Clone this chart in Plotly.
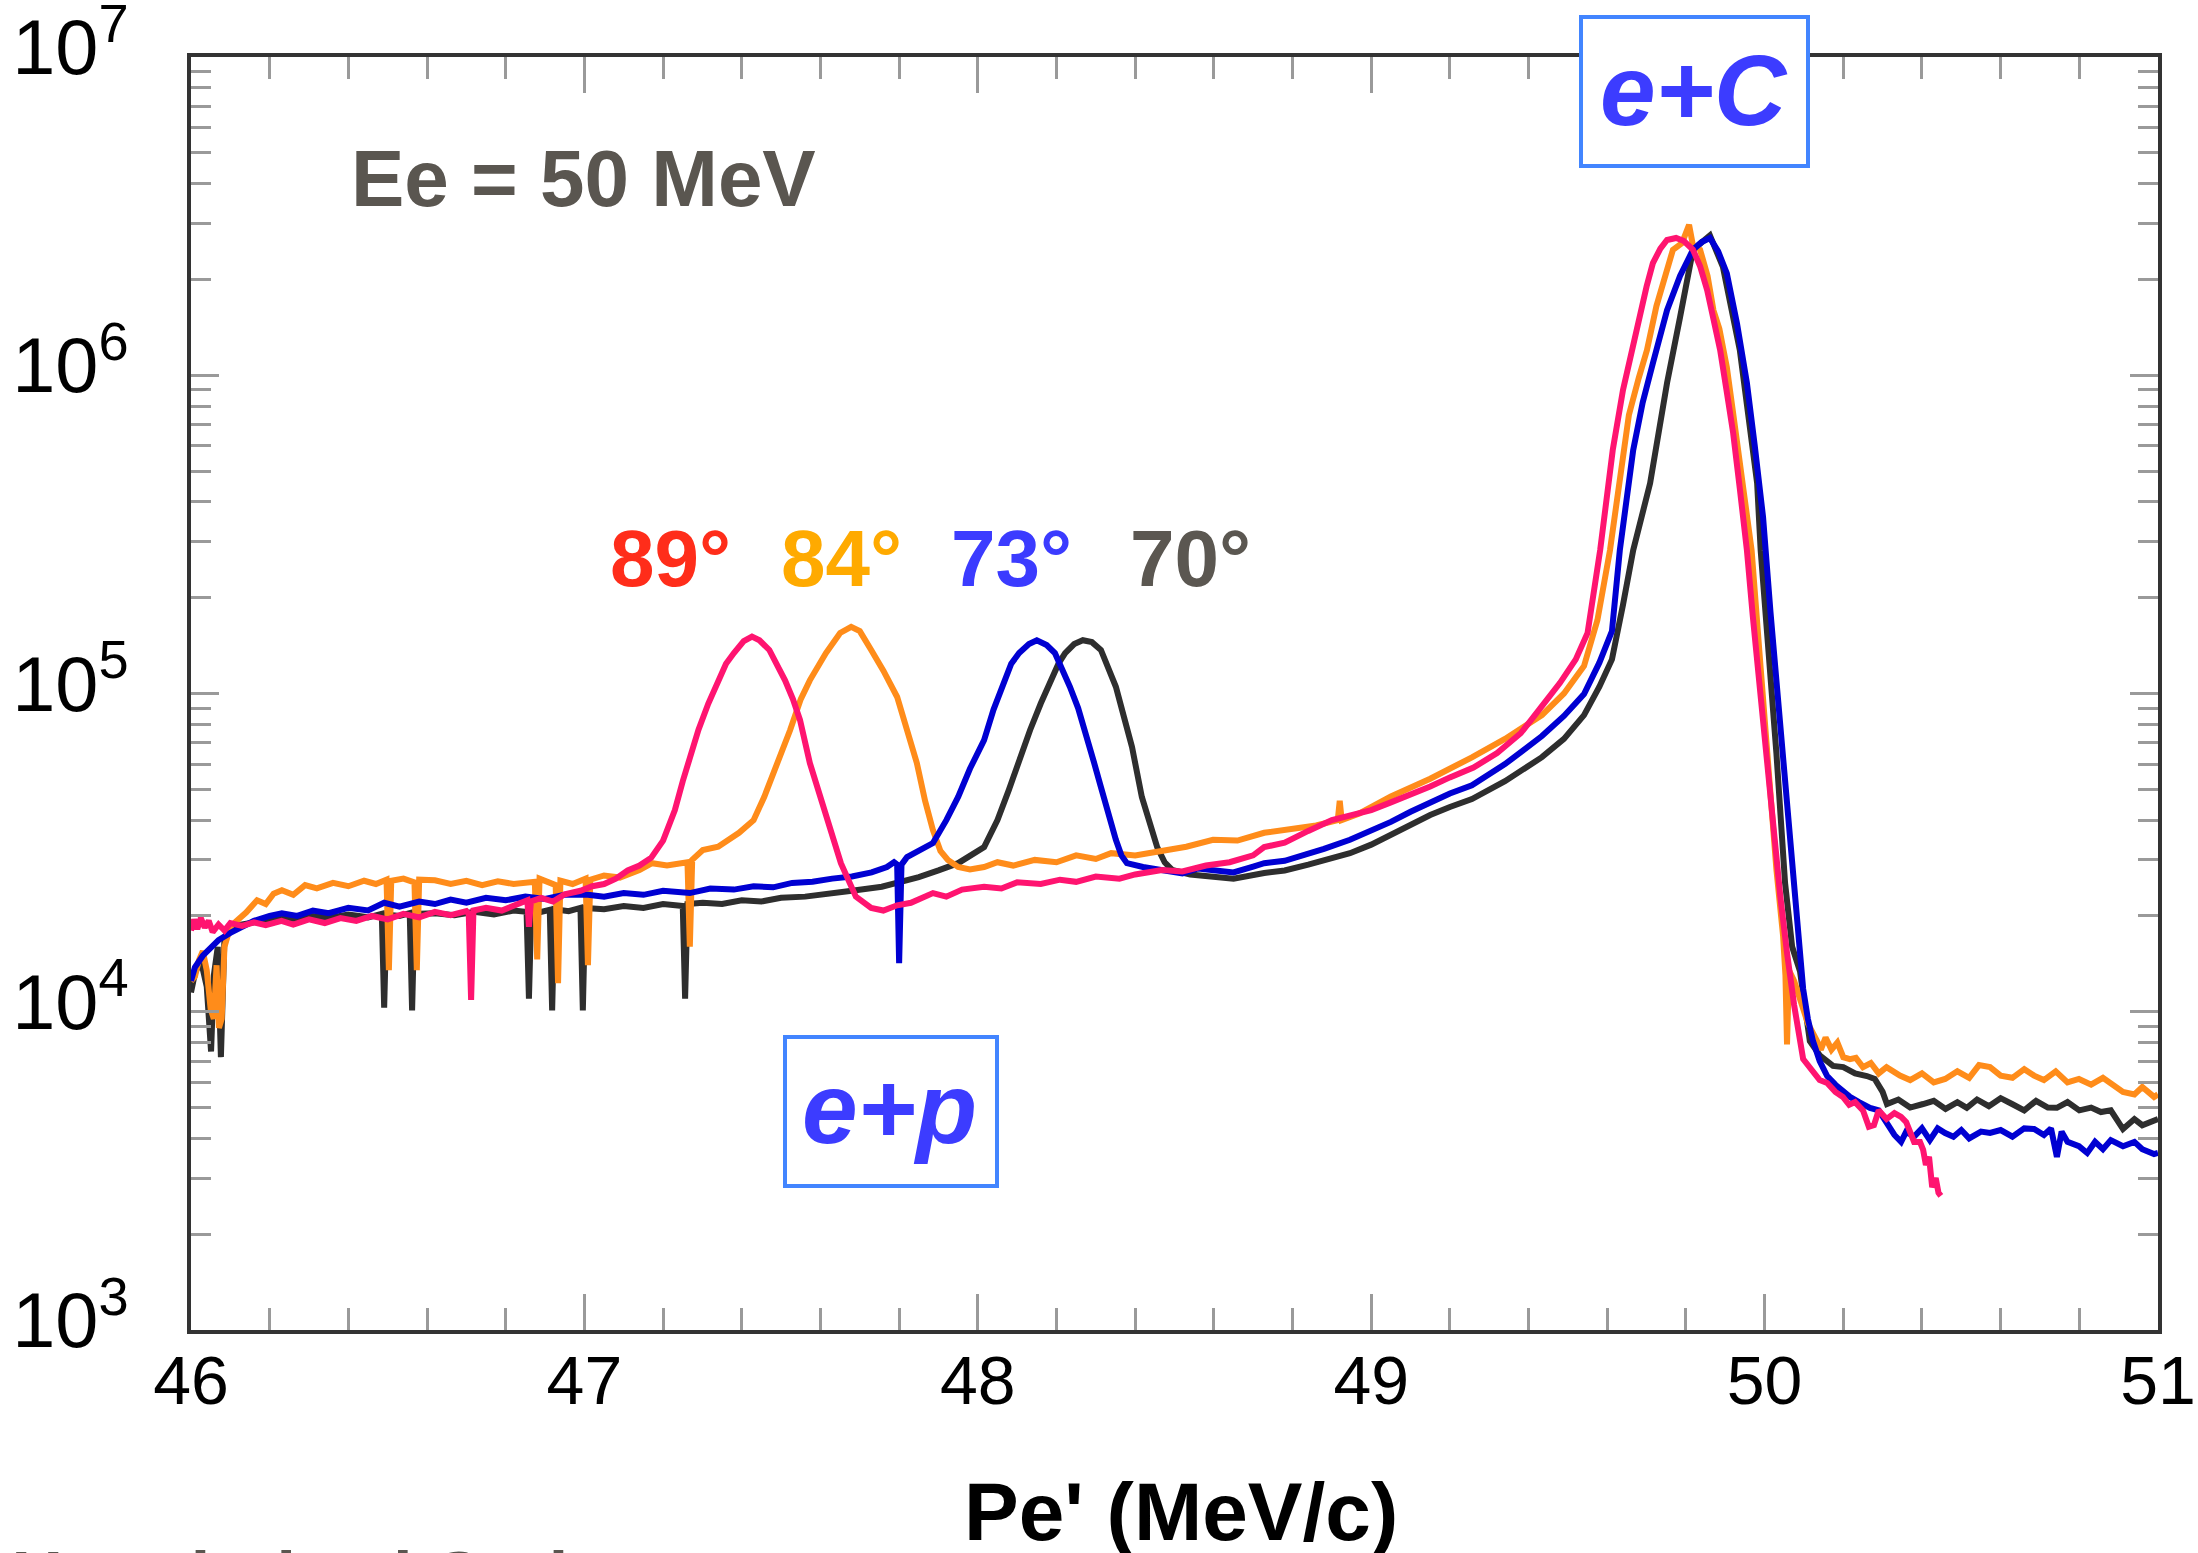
import plotly.graph_objects as go

# ---------------- data ----------------
# 89 deg (pink)
x_89 = [46.000, 46.008, 46.016, 46.025, 46.035, 46.045, 46.055, 46.070, 46.085, 46.100, 46.130, 46.160,
        46.190, 46.230, 46.260, 46.300, 46.340, 46.380, 46.420, 46.460, 46.500, 46.540, 46.580, 46.620,
        46.660, 46.700, 46.706, 46.712, 46.718, 46.750, 46.790, 46.830, 46.855, 46.859, 46.864, 46.890,
        46.920, 46.950, 46.990, 47.020, 47.050, 47.080, 47.110, 47.140, 47.170, 47.200, 47.230, 47.250,
        47.270, 47.290, 47.315, 47.340, 47.360, 47.380, 47.405, 47.426, 47.445, 47.470, 47.490, 47.510,
        47.530, 47.548, 47.573, 47.614, 47.652, 47.690, 47.729, 47.760, 47.795, 47.830, 47.886, 47.920,
        47.960, 48.016, 48.060, 48.100, 48.160, 48.209, 48.250, 48.300, 48.360, 48.400, 48.468, 48.520,
        48.580, 48.640, 48.700, 48.728, 48.780, 48.840, 48.900, 48.950, 49.000, 49.050, 49.100, 49.150,
        49.200, 49.260, 49.320, 49.380, 49.430, 49.480, 49.520, 49.550, 49.582, 49.614, 49.640, 49.666,
        49.683, 49.700, 49.716, 49.735, 49.752, 49.775, 49.795, 49.818, 49.836, 49.854, 49.870, 49.887,
        49.903, 49.920, 49.937, 49.955, 49.970, 49.988, 50.005, 50.021, 50.040, 50.057, 50.075, 50.098,
        50.120, 50.140, 50.159, 50.180, 50.199, 50.215, 50.230, 50.250, 50.265, 50.278, 50.290, 50.310,
        50.330, 50.347, 50.360, 50.380, 50.395, 50.403, 50.410, 50.418, 50.426, 50.435, 50.442, 50.448]
y_89 = [1.80e4, 1.95e4, 1.82e4, 1.97e4, 1.84e4, 1.93e4, 1.78e4, 1.88e4, 1.80e4, 1.90e4, 1.86e4, 1.91e4,
        1.87e4, 1.93e4, 1.88e4, 1.95e4, 1.90e4, 1.97e4, 1.93e4, 2.00e4, 1.95e4, 2.03e4, 1.98e4, 2.06e4,
        2.01e4, 2.07e4, 2.03e4, 1.09e4, 2.08e4, 2.12e4, 2.08e4, 2.18e4, 2.24e4, 1.85e4, 2.22e4, 2.28e4,
        2.22e4, 2.34e4, 2.40e4, 2.48e4, 2.52e4, 2.62e4, 2.78e4, 2.88e4, 3.05e4, 3.45e4, 4.30e4, 5.30e4,
        6.40e4, 7.70e4, 9.30e4, 1.10e5, 1.24e5, 1.34e5, 1.46e5, 1.51e5, 1.47e5, 1.37e5, 1.24e5, 1.10e5,
        9.60e4, 8.26e4, 6.05e4, 4.22e4, 2.93e4, 2.30e4, 2.12e4, 2.08e4, 2.16e4, 2.20e4, 2.36e4, 2.30e4,
        2.42e4, 2.47e4, 2.44e4, 2.55e4, 2.52e4, 2.60e4, 2.56e4, 2.66e4, 2.62e4, 2.70e4, 2.79e4, 2.76e4,
        2.88e4, 2.95e4, 3.10e4, 3.29e4, 3.40e4, 3.70e4, 4.00e4, 4.15e4, 4.30e4, 4.55e4, 4.80e4, 5.10e4,
        5.45e4, 5.85e4, 6.50e4, 7.50e4, 9.00e4, 1.08e5, 1.28e5, 1.55e5, 2.82e5, 5.82e5, 8.99e5, 1.26e6,
        1.52e6, 1.90e6, 2.25e6, 2.50e6, 2.66e6, 2.70e6, 2.64e6, 2.48e6, 2.20e6, 1.85e6, 1.50e6, 1.20e6,
        9.00e5, 6.59e5, 4.40e5, 2.82e5, 1.75e5, 1.03e5, 6.00e4, 3.70e4, 2.30e4, 1.53e4, 1.05e4, 7.10e3,
        6.60e3, 6.10e3, 5.97e3, 5.60e3, 5.40e3, 5.10e3, 5.20e3, 4.90e3, 4.35e3, 4.40e3, 4.90e3, 4.60e3,
        4.80e3, 4.67e3, 4.50e3, 3.90e3, 3.90e3, 3.68e3, 3.30e3, 3.50e3, 2.81e3, 3.00e3, 2.70e3, 2.64e3]

# 84 deg (orange)
x_84 = [46.000, 46.010, 46.020, 46.030, 46.040, 46.050, 46.058, 46.065, 46.071, 46.078, 46.085, 46.100,
        46.120, 46.140, 46.168, 46.190, 46.210, 46.231, 46.260, 46.290, 46.320, 46.361, 46.400, 46.440,
        46.470, 46.497, 46.503, 46.509, 46.540, 46.568, 46.574, 46.580, 46.620, 46.660, 46.700, 46.740,
        46.780, 46.820, 46.874, 46.880, 46.886, 46.927, 46.933, 46.939, 46.970, 47.003, 47.009, 47.015,
        47.050, 47.090, 47.140, 47.172, 47.210, 47.262, 47.268, 47.274, 47.301, 47.340, 47.393, 47.430,
        47.457, 47.490, 47.523, 47.550, 47.573, 47.614, 47.650, 47.678, 47.700, 47.729, 47.760, 47.795,
        47.820, 47.845, 47.866, 47.886, 47.905, 47.924, 47.950, 47.980, 48.016, 48.050, 48.090, 48.145,
        48.200, 48.250, 48.300, 48.339, 48.400, 48.468, 48.530, 48.598, 48.660, 48.728, 48.800, 48.860,
        48.915, 48.920, 48.925, 48.970, 49.050, 49.150, 49.256, 49.340, 49.434, 49.490, 49.541, 49.575,
        49.607, 49.630, 49.655, 49.680, 49.701, 49.725, 49.748, 49.767, 49.790, 49.808, 49.818, 49.836,
        49.855, 49.870, 49.885, 49.904, 49.920, 49.940, 49.967, 49.990, 50.010, 50.030, 50.047, 50.053,
        50.057, 50.062, 50.075, 50.090, 50.110, 50.133, 50.143, 50.155, 50.170, 50.185, 50.200, 50.217,
        50.232, 50.250, 50.270, 50.290, 50.310, 50.344, 50.370, 50.400, 50.430, 50.459, 50.490, 50.520,
        50.545, 50.573, 50.600, 50.630, 50.660, 50.685, 50.710, 50.740, 50.770, 50.799, 50.830, 50.860,
        50.890, 50.911, 50.940, 50.960, 50.990, 51.000]
y_84 = [1.25e4, 1.29e4, 1.45e4, 1.55e4, 1.35e4, 1.02e4, 9.50e3, 1.40e4, 8.90e3, 9.50e3, 1.60e4, 1.85e4,
        1.95e4, 2.05e4, 2.24e4, 2.18e4, 2.35e4, 2.41e4, 2.33e4, 2.50e4, 2.44e4, 2.54e4, 2.48e4, 2.58e4,
        2.52e4, 2.60e4, 1.35e4, 2.58e4, 2.62e4, 2.55e4, 1.35e4, 2.60e4, 2.59e4, 2.52e4, 2.58e4, 2.50e4,
        2.57e4, 2.52e4, 2.56e4, 1.46e4, 2.62e4, 2.50e4, 1.23e4, 2.58e4, 2.52e4, 2.62e4, 1.40e4, 2.60e4,
        2.68e4, 2.64e4, 2.79e4, 2.93e4, 2.88e4, 2.95e4, 1.60e4, 3.00e4, 3.22e4, 3.30e4, 3.65e4, 4.00e4,
        4.73e4, 6.00e4, 7.68e4, 9.60e4, 1.10e5, 1.34e5, 1.55e5, 1.62e5, 1.57e5, 1.37e5, 1.18e5, 9.75e4,
        7.80e4, 6.05e4, 4.60e4, 3.72e4, 3.20e4, 3.00e4, 2.85e4, 2.80e4, 2.85e4, 2.95e4, 2.88e4, 3.00e4,
        2.95e4, 3.10e4, 3.02e4, 3.15e4, 3.10e4, 3.22e4, 3.30e4, 3.47e4, 3.45e4, 3.65e4, 3.75e4, 3.85e4,
        4.00e4, 4.60e4, 4.00e4, 4.20e4, 4.75e4, 5.40e4, 6.30e4, 7.20e4, 8.55e4, 1.00e5, 1.22e5, 1.70e5,
        2.82e5, 4.60e5, 7.50e5, 9.80e5, 1.20e6, 1.65e6, 2.10e6, 2.48e6, 2.60e6, 2.97e6, 2.55e6, 2.48e6,
        2.05e6, 1.60e6, 1.40e6, 1.06e6, 7.60e5, 4.80e5, 2.82e5, 1.20e5, 5.50e4, 2.80e4, 1.73e4, 1.30e4,
        7.90e3, 1.35e4, 1.25e4, 1.10e4, 9.20e3, 8.10e3, 7.60e3, 8.30e3, 7.60e3, 8.00e3, 7.20e3, 7.10e3,
        7.16e3, 6.70e3, 6.90e3, 6.40e3, 6.70e3, 6.30e3, 6.10e3, 6.40e3, 6.00e3, 6.15e3, 6.50e3, 6.20e3,
        6.80e3, 6.70e3, 6.30e3, 6.20e3, 6.60e3, 6.30e3, 6.10e3, 6.50e3, 6.00e3, 6.15e3, 5.90e3, 6.20e3,
        5.80e3, 5.60e3, 5.50e3, 5.80e3, 5.40e3, 5.50e3]

# 73 deg (blue)
x_73 = [46.000, 46.010, 46.030, 46.050, 46.070, 46.100, 46.130, 46.160, 46.200, 46.231, 46.270, 46.310,
        46.350, 46.400, 46.450, 46.491, 46.530, 46.580, 46.620, 46.660, 46.700, 46.750, 46.800, 46.850,
        46.900, 46.950, 47.009, 47.050, 47.100, 47.150, 47.200, 47.268, 47.320, 47.380, 47.430, 47.480,
        47.528, 47.580, 47.630, 47.680, 47.730, 47.769, 47.787, 47.795, 47.800, 47.806, 47.820, 47.850,
        47.886, 47.920, 47.950, 47.980, 48.016, 48.040, 48.067, 48.085, 48.105, 48.130, 48.150, 48.175,
        48.196, 48.215, 48.234, 48.255, 48.275, 48.295, 48.313, 48.330, 48.351, 48.365, 48.379, 48.420,
        48.468, 48.520, 48.560, 48.598, 48.650, 48.700, 48.728, 48.780, 48.830, 48.880, 48.946, 49.000,
        49.050, 49.100, 49.150, 49.200, 49.256, 49.340, 49.434, 49.490, 49.541, 49.580, 49.612, 49.632,
        49.666, 49.690, 49.716, 49.735, 49.752, 49.785, 49.818, 49.840, 49.861, 49.882, 49.904, 49.930,
        49.955, 49.975, 49.996, 50.015, 50.032, 50.050, 50.065, 50.080, 50.098, 50.110, 50.123, 50.140,
        50.159, 50.180, 50.199, 50.217, 50.240, 50.268, 50.290, 50.310, 50.330, 50.347, 50.360, 50.380,
        50.400, 50.420, 50.440, 50.459, 50.480, 50.500, 50.520, 50.550, 50.573, 50.600, 50.630, 50.660,
        50.685, 50.710, 50.728, 50.743, 50.755, 50.770, 50.799, 50.820, 50.840, 50.860, 50.880, 50.911,
        50.940, 50.960, 50.990, 51.000]
y_73 = [1.25e4, 1.38e4, 1.50e4, 1.60e4, 1.68e4, 1.77e4, 1.85e4, 1.93e4, 2.00e4, 2.04e4, 2.00e4, 2.08e4,
        2.04e4, 2.12e4, 2.08e4, 2.20e4, 2.14e4, 2.22e4, 2.18e4, 2.25e4, 2.20e4, 2.28e4, 2.24e4, 2.30e4,
        2.26e4, 2.33e4, 2.33e4, 2.30e4, 2.36e4, 2.33e4, 2.40e4, 2.36e4, 2.44e4, 2.42e4, 2.48e4, 2.46e4,
        2.54e4, 2.56e4, 2.62e4, 2.66e4, 2.74e4, 2.85e4, 2.95e4, 2.90e4, 1.42e4, 2.90e4, 3.06e4, 3.20e4,
        3.39e4, 4.00e4, 4.73e4, 5.80e4, 7.14e4, 8.90e4, 1.10e5, 1.24e5, 1.34e5, 1.43e5, 1.47e5, 1.42e5,
        1.34e5, 1.20e5, 1.05e5, 9.00e4, 7.52e4, 6.10e4, 5.08e4, 4.20e4, 3.47e4, 3.10e4, 2.93e4, 2.85e4,
        2.79e4, 2.72e4, 2.82e4, 2.79e4, 2.74e4, 2.86e4, 2.93e4, 2.98e4, 3.10e4, 3.25e4, 3.47e4, 3.70e4,
        3.95e4, 4.25e4, 4.55e4, 4.85e4, 5.15e4, 6.00e4, 7.35e4, 8.50e4, 9.96e4, 1.25e5, 1.57e5, 2.82e5,
        5.82e5, 8.20e5, 1.09e6, 1.35e6, 1.60e6, 2.05e6, 2.48e6, 2.62e6, 2.70e6, 2.45e6, 2.09e6, 1.45e6,
        9.46e5, 6.00e5, 3.59e5, 1.80e5, 1.03e5, 5.80e4, 3.72e4, 2.20e4, 1.18e4, 9.50e3, 8.09e3, 7.00e3,
        6.28e3, 5.90e3, 5.60e3, 5.40e3, 5.20e3, 4.99e3, 4.90e3, 4.50e3, 4.10e3, 3.90e3, 4.20e3, 4.05e3,
        4.30e3, 3.95e3, 4.30e3, 4.16e3, 4.05e3, 4.25e3, 4.00e3, 4.20e3, 4.16e3, 4.25e3, 4.05e3, 4.30e3,
        4.28e3, 4.10e3, 4.30e3, 3.50e3, 4.20e3, 3.90e3, 3.78e3, 3.60e3, 3.90e3, 3.70e3, 3.95e3, 3.78e3,
        3.90e3, 3.70e3, 3.57e3, 3.60e3]

# 70 deg (black)
x_70 = [46.000, 46.010, 46.025, 46.040, 46.051, 46.058, 46.068, 46.076, 46.085, 46.100, 46.130, 46.168,
        46.200, 46.231, 46.270, 46.310, 46.350, 46.400, 46.450, 46.485, 46.491, 46.497, 46.530, 46.556,
        46.562, 46.568, 46.620, 46.670, 46.720, 46.770, 46.820, 46.853, 46.859, 46.865, 46.890, 46.912,
        46.918, 46.924, 46.960, 46.990, 46.996, 47.002, 47.050, 47.100, 47.150, 47.200, 47.250, 47.256,
        47.262, 47.301, 47.350, 47.400, 47.450, 47.500, 47.561, 47.620, 47.680, 47.756, 47.800, 47.850,
        47.900, 47.950, 48.016, 48.050, 48.079, 48.105, 48.133, 48.160, 48.184, 48.205, 48.222, 48.245,
        48.267, 48.290, 48.313, 48.330, 48.351, 48.372, 48.392, 48.417, 48.436, 48.456, 48.475, 48.494,
        48.540, 48.598, 48.650, 48.728, 48.780, 48.840, 48.900, 48.946, 49.000, 49.050, 49.100, 49.150,
        49.200, 49.256, 49.340, 49.434, 49.490, 49.541, 49.580, 49.612, 49.640, 49.666, 49.709, 49.752,
        49.785, 49.803, 49.818, 49.861, 49.894, 49.937, 49.981, 49.990, 50.010, 50.030, 50.052, 50.070,
        50.090, 50.105, 50.115, 50.140, 50.174, 50.200, 50.230, 50.260, 50.280, 50.300, 50.311, 50.340,
        50.370, 50.403, 50.430, 50.460, 50.490, 50.514, 50.540, 50.570, 50.600, 50.629, 50.660, 50.690,
        50.720, 50.743, 50.770, 50.800, 50.830, 50.855, 50.880, 50.911, 50.940, 50.960, 50.990, 51.000]
y_70 = [1.15e4, 1.32e4, 1.45e4, 1.20e4, 7.50e3, 1.30e4, 1.60e4, 7.20e3, 1.70e4, 1.85e4, 1.88e4, 1.92e4,
        1.96e4, 1.98e4, 1.95e4, 2.00e4, 1.97e4, 2.02e4, 1.98e4, 2.03e4, 1.03e4, 2.02e4, 2.00e4, 2.04e4,
        1.01e4, 2.03e4, 2.04e4, 2.01e4, 2.06e4, 2.02e4, 2.08e4, 2.06e4, 1.10e4, 2.09e4, 2.06e4, 2.09e4,
        1.01e4, 2.10e4, 2.07e4, 2.12e4, 1.01e4, 2.12e4, 2.10e4, 2.15e4, 2.12e4, 2.18e4, 2.15e4, 1.10e4,
        2.18e4, 2.20e4, 2.18e4, 2.24e4, 2.22e4, 2.28e4, 2.30e4, 2.34e4, 2.40e4, 2.47e4, 2.55e4, 2.65e4,
        2.78e4, 2.93e4, 3.29e4, 4.00e4, 4.98e4, 6.20e4, 7.68e4, 9.30e4, 1.10e5, 1.24e5, 1.34e5, 1.43e5,
        1.47e5, 1.45e5, 1.37e5, 1.22e5, 1.05e5, 8.40e4, 6.79e4, 4.73e4, 3.90e4, 3.29e4, 2.95e4, 2.79e4,
        2.70e4, 2.65e4, 2.62e4, 2.73e4, 2.78e4, 2.90e4, 3.05e4, 3.15e4, 3.35e4, 3.60e4, 3.90e4, 4.15e4,
        4.40e4, 4.66e4, 5.30e4, 6.31e4, 7.20e4, 8.55e4, 1.05e5, 1.28e5, 1.90e5, 2.82e5, 4.58e5, 9.46e5,
        1.52e6, 1.99e6, 2.48e6, 2.75e6, 2.19e6, 1.20e6, 4.58e5, 2.82e5, 1.40e5, 6.50e4, 2.54e4, 1.60e4,
        1.34e4, 1.00e4, 8.09e3, 7.30e3, 6.76e3, 6.70e3, 6.40e3, 6.28e3, 6.15e3, 5.60e3, 5.13e3, 5.30e3,
        5.00e3, 5.13e3, 5.25e3, 4.95e3, 5.20e3, 4.99e3, 5.30e3, 5.05e3, 5.35e3, 5.13e3, 4.90e3, 5.25e3,
        5.00e3, 4.99e3, 5.20e3, 4.90e3, 5.00e3, 4.84e3, 4.90e3, 4.28e3, 4.60e3, 4.40e3, 4.54e3, 4.60e3]

angle_labels = ["89°", "84°", "73°", "70°"]
angle_label_colors = ["#ff2d1a", "#ffaa00", "#3b3bff", "#5b5751"]
line_colors = {"70": "#2e2e2e", "84": "#ff8c1a", "73": "#0000d2", "89": "#ff1470"}

# ---------------- figure ----------------
W, H = 2198, 1553
ML, MR, MT, MB = 191, 40, 57, 223
PW, PH = W - ML - MR, H - MT - MB


def pxx(p):
    return (p - ML) / PW


def pxy(p):
    return (H - MB - p) / PH


fig = go.Figure()
for xs, ys, key in [(x_70, y_70, "70"), (x_84, y_84, "84"), (x_73, y_73, "73"), (x_89, y_89, "89")]:
    fig.add_trace(go.Scatter(x=xs, y=ys, mode="lines",
                             line=dict(color=line_colors[key], width=6),
                             showlegend=False, hoverinfo="skip"))

FONT = "Liberation Sans, Arial, Helvetica, sans-serif"
axis_common = dict(showline=True, linecolor="#333333", linewidth=4, mirror="ticks",
                   ticks="inside", tickcolor="#9a9a9a", tickwidth=3,
                   showgrid=False, zeroline=False, automargin=False, ticklabeloverflow="allow")

fig.update_xaxes(range=[46, 51], dtick=1, tick0=46, ticklen=36,
                 ticklabelstandoff=-12,
                 tickfont=dict(family=FONT, size=68, color="#000000"),
                 minor=dict(ticks="inside", ticklen=22, tickwidth=3, tickcolor="#9a9a9a",
                            dtick=0.2, tick0=46, showgrid=False),
                 **axis_common)
fig.update_yaxes(type="log", range=[3, 7], dtick=1, exponentformat="power", showexponent="all",
                 ticklen=28, ticklabelstandoff=46, ticklabelshift=-10,
                 tickfont=dict(family=FONT, size=62, color="#000000"),
                 minor=dict(ticks="inside", ticklen=20, tickwidth=3, tickcolor="#9a9a9a",
                            dtick="D1", showgrid=False),
                 **axis_common)

annotations = []
# Beam energy
annotations.append(dict(text="<b>Ee = 50 MeV</b>", x=pxx(349), y=pxy(178), xref="paper", yref="paper",
                        xanchor="left", yanchor="middle", showarrow=False,
                        font=dict(family=FONT, size=80, color="#5a5650")))
# angle labels
for lab, col, cx in zip(angle_labels, angle_label_colors, [670, 841, 1011, 1190]):
    annotations.append(dict(text="<b>" + lab + "</b>", x=pxx(cx), y=pxy(558), xref="paper", yref="paper",
                            xanchor="center", yanchor="middle", showarrow=False,
                            font=dict(family=FONT, size=80, color=col)))
# e+C / e+p
annotations.append(dict(text="<b><i>e+C</i></b>", x=pxx(1694), y=pxy(90), xref="paper", yref="paper",
                        xanchor="center", yanchor="middle", showarrow=False,
                        font=dict(family=FONT, size=100, color="#3c3cff")))
annotations.append(dict(text="<b><i>e+p</i></b>", x=pxx(889), y=pxy(1108), xref="paper", yref="paper",
                        xanchor="center", yanchor="middle", showarrow=False,
                        font=dict(family=FONT, size=100, color="#3c3cff")))
# x title
annotations.append(dict(text="<b>Pe' (MeV/c)</b>", x=pxx(1181), y=pxy(1464), xref="paper", yref="paper",
                        xanchor="center", yanchor="top", showarrow=False,
                        font=dict(family=FONT, size=82, color="#000000")))
# cut-off caption at the very bottom
annotations.append(dict(text="<b>Unpolarized Carbon target</b>", x=pxx(10), y=pxy(1536), xref="paper",
                        yref="paper", xanchor="left", yanchor="top", showarrow=False,
                        font=dict(family=FONT, size=70, color="#5a5650")))

shapes = [
    dict(type="rect", xref="paper", yref="paper", x0=pxx(1581), x1=pxx(1808), y0=pxy(166), y1=pxy(17),
         line=dict(color="#4285ff", width=4), fillcolor="white", layer="above"),
    dict(type="rect", xref="paper", yref="paper", x0=pxx(785), x1=pxx(997), y0=pxy(1186), y1=pxy(1037),
         line=dict(color="#4285ff", width=4), fillcolor="white", layer="above"),
]

fig.update_layout(width=W, height=H, margin=dict(l=ML, r=MR, t=MT, b=MB, pad=0, autoexpand=False),
                  paper_bgcolor="white", plot_bgcolor="white",
                  annotations=annotations, shapes=shapes, showlegend=False)

fig.write_html("out.html")
